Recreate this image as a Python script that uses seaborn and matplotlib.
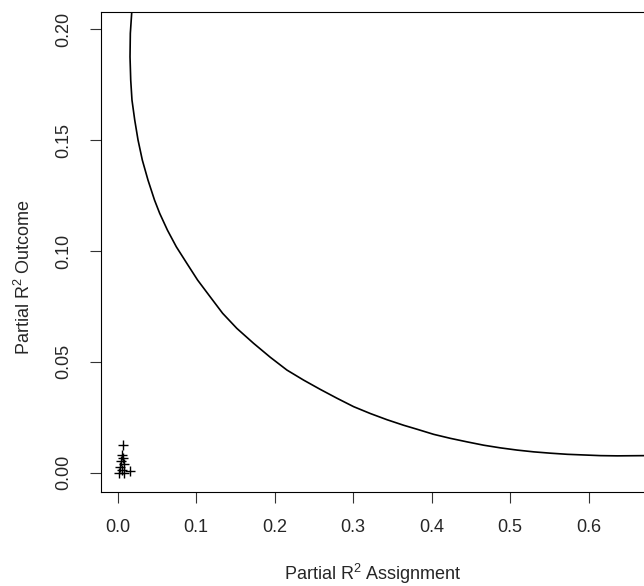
import numpy as np
import pandas as pd
import seaborn as sns
import matplotlib
matplotlib.use("Agg")
import matplotlib.pyplot as plt

# --- data ---
# bound curve (partial R2 of assignment vs. partial R2 of outcome)
curve_x = [0.0179, 0.0161, 0.0157, 0.0166, 0.0182, 0.0217, 0.0259, 0.0314,
           0.0386, 0.0469, 0.0535, 0.0634, 0.0747, 0.0880, 0.1018, 0.1177,
           0.1337, 0.1518, 0.1730, 0.1943, 0.2156, 0.2367, 0.2580, 0.2793,
           0.3005, 0.3218, 0.3431, 0.3643, 0.3814, 0.4026, 0.4238, 0.4452,
           0.4663, 0.4876, 0.5089, 0.5301, 0.5514, 0.5727, 0.5939, 0.6152,
           0.6365, 0.6704]
curve_y = [0.2077, 0.1982, 0.1876, 0.1771, 0.1681, 0.1591, 0.1501, 0.1410,
           0.1320, 0.1230, 0.1170, 0.1094, 0.1019, 0.0945, 0.0869, 0.0794,
           0.0719, 0.0651, 0.0584, 0.0521, 0.0463, 0.0418, 0.0376, 0.0336,
           0.0298, 0.0267, 0.0239, 0.0214, 0.0196, 0.0173, 0.0155, 0.0139,
           0.0124, 0.0112, 0.0102, 0.0094, 0.0088, 0.0083, 0.0080, 0.0077,
           0.0076, 0.0077]

# observed covariates
cov_x = [0.0068, 0.0055, 0.0068, 0.0042, 0.0080, 0.0029, 0.0055, 0.0017, 0.0161, 0.0080]
cov_y = [0.0124, 0.0080, 0.0066, 0.0053, 0.0039, 0.0026, 0.0012, 0.0000, 0.0009, 0.0000]

x_ticks = [0.0, 0.1, 0.2, 0.3, 0.4, 0.5, 0.6]
y_ticks = [0.00, 0.05, 0.10, 0.15, 0.20]

curve_df = pd.DataFrame({"x": curve_x, "y": curve_y})
cov_df = pd.DataFrame({"x": cov_x, "y": cov_y})

# --- style ---
sns.set_style("ticks")
plt.rcParams["font.family"] = ["Liberation Sans", "DejaVu Sans"]
plt.rcParams["mathtext.fontset"] = "custom"
plt.rcParams["mathtext.rm"] = "Liberation Sans"
plt.rcParams["mathtext.it"] = "Liberation Sans:italic"
plt.rcParams["axes.edgecolor"] = "black"
plt.rcParams["axes.linewidth"] = 0.8

W, H = 644, 586
fig = plt.figure(figsize=(W / 100, H / 100), dpi=100)
left, right, top, bottom = 100.5, 646, 12.3, 491.7
ax = fig.add_axes([left / W, 1 - bottom / H, (right - left) / W, (bottom - top) / H])

sns.lineplot(data=curve_df, x="x", y="y", sort=False, estimator=None,
             color="black", linewidth=1.2, ax=ax, solid_joinstyle="round")
sns.scatterplot(data=cov_df, x="x", y="y", marker="+", s=60, color="black",
                linewidth=1.0, ax=ax)

ax.set_xlim(-0.0219, 0.673)
ax.set_ylim(-0.00857, 0.2077)
ax.set_xticks(x_ticks)
ax.set_xticklabels([f"{v:.1f}" for v in x_ticks], fontsize=13)
ax.set_yticks(y_ticks)
ax.set_yticklabels([f"{v:.2f}" for v in y_ticks], fontsize=13,
                   rotation=90, va="center")

ax.tick_params(axis="both", direction="out", length=8, width=0.8,
               color="#333333", pad=12)

ax.set_xlabel(r"Partial $\mathrm{R}^2$ Assignment", fontsize=13)
ax.set_ylabel(r"Partial $\mathrm{R}^2$ Outcome", fontsize=13)
ax.xaxis.set_label_coords(0.5, -0.147)
ax.yaxis.set_label_coords(-0.122, 0.448)

for s in ax.spines.values():
    s.set_visible(True)
    s.set_color("black")

fig.savefig("out.png", dpi=100)
